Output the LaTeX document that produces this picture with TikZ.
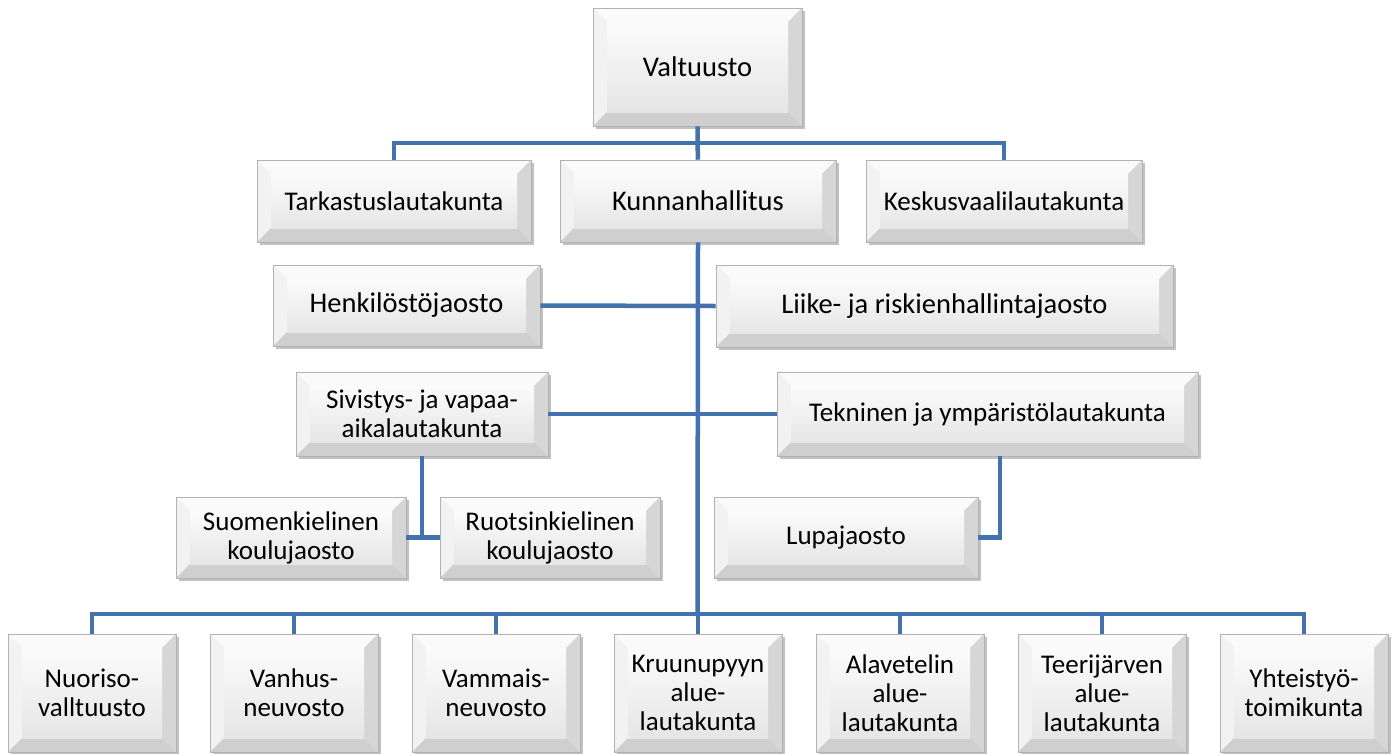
\documentclass[tikz,border=0pt]{standalone}
\usepackage{fontspec}
\setmainfont{Carlito}
\usetikzlibrary{shadows}
\definecolor{conn}{HTML}{4472AC}
\tikzset{
  bev/.style={
    draw=gray!60, line width=0.6pt, fill=gray!18, inner sep=0pt, align=center,
    font=\fontsize{27}{29}\selectfont,
    drop shadow={shadow xshift=2.5pt,shadow yshift=-2.5pt,opacity=0.35,fill=black!70},
    path picture={
      \path (path picture bounding box.north west) coordinate (pNW)
            (path picture bounding box.north east) coordinate (pNE)
            (path picture bounding box.south west) coordinate (pSW)
            (path picture bounding box.south east) coordinate (pSE);
      \path ([shift={(14pt,-14pt)}]pNW) coordinate (iNW)
            ([shift={(-14pt,-14pt)}]pNE) coordinate (iNE)
            ([shift={(14pt,14pt)}]pSW) coordinate (iSW)
            ([shift={(-14pt,14pt)}]pSE) coordinate (iSE);
      \fill[gray!4] (pNW) -- (pNE) -- (iNE) -- (iNW) -- cycle;
      \fill[gray!10] (pNW) -- (iNW) -- (iSW) -- (pSW) -- cycle;
      \fill[gray!32] (pNE) -- (pSE) -- (iSE) -- (iNE) -- cycle;
      \fill[gray!38] (pSW) -- (iSW) -- (iSE) -- (pSE) -- cycle;
      \shade[top color=gray!3, bottom color=gray!20] (iNW) rectangle (iSE);
    }},
  bigtext/.style={font=\fontsize{28.5}{31}\selectfont},
  conn/.style={draw=conn, line width=4.5pt}
}
\begin{document}
\begin{tikzpicture}[x=1pt,y=-1pt]
\useasboundingbox (0,0) rectangle (1394,753);
\coordinate (b1) at (697.5,143);
\coordinate (b2) at (697.5,614);
% boxes
\node[bev, bigtext, minimum width=209, minimum height=118] (val) at (697.5,67) {Valtuusto};
\node[bev, minimum width=274, minimum height=82] (tark) at (394,201) {Tarkastuslautakunta};
\node[bev, bigtext, minimum width=276, minimum height=82] (kunn) at (698,201) {Kunnanhallitus};
\node[bev, minimum width=276, minimum height=82] (kesk) at (1004,201) {Keskusvaalilautakunta};
\node[bev, bigtext, minimum width=267, minimum height=81] (henk) at (406.5,305.5) {Henkilöstöjaosto};
\node[bev, bigtext, minimum width=457, minimum height=82] (liik) at (944.5,306) {Liike- ja riskienhallintajaosto};
\node[bev, minimum width=252, minimum height=84] (siv) at (422,414) {Sivistys- ja vapaa-\\aikalautakunta};
\node[bev, minimum width=421, minimum height=84] (tek) at (987.5,414) {Tekninen ja ympäristölautakunta};
\node[bev, minimum width=230, minimum height=81] (suom) at (291,537.5) {Suomenkielinen\\koulujaosto};
\node[bev, minimum width=220, minimum height=81] (ruot) at (550,537.5) {Ruotsinkielinen\\koulujaosto};
\node[bev, minimum width=264, minimum height=81] (lupa) at (846,537.5) {Lupajaosto};
\node[bev, minimum width=168, minimum height=118] (n1) at (92,693) {Nuoriso-\\valltuusto};
\node[bev, minimum width=168, minimum height=118] (n2) at (294,693) {Vanhus-\\neuvosto};
\node[bev, minimum width=168, minimum height=118] (n3) at (496,693) {Vammais-\\neuvosto};
\node[bev, minimum width=168, minimum height=118] (n4) at (698,693) {Kruunupyyn\\alue-\\lautakunta};
\node[bev, minimum width=168, minimum height=118] (n5) at (900,693) {Alavetelin\\alue-\\lautakunta};
\node[bev, minimum width=168, minimum height=118] (n6) at (1102,693) {Teerijärven\\alue-\\lautakunta};
\node[bev, minimum width=168, minimum height=118] (n7) at (1304,693) {Yhteistyö-\\toimikunta};
% connectors
\draw[conn] (tark.north) |- (b1) -| (kesk.north);
\draw[conn] (val.south) -- (b1) -- (kunn.north);
\draw[conn] (kunn.south) -- (b2);
\draw[conn] (henk.east) -- (liik.west);
\draw[conn] (siv.east) -- (tek.west);
\draw[conn] (siv.south) -- (siv.south |- suom.east);
\draw[conn] (suom.east) -- (ruot.west);
\draw[conn] ([xshift=12.5pt]tek.south) |- (lupa.east);
\draw[conn] (n1.north) |- (b2) -| (n7.north);
\draw[conn] (n2.north) -- (n2.north |- b2);
\draw[conn] (n3.north) -- (n3.north |- b2);
\draw[conn] (n4.north) -- (n4.north |- b2);
\draw[conn] (n5.north) -- (n5.north |- b2);
\draw[conn] (n6.north) -- (n6.north |- b2);
\end{tikzpicture}
\end{document}
